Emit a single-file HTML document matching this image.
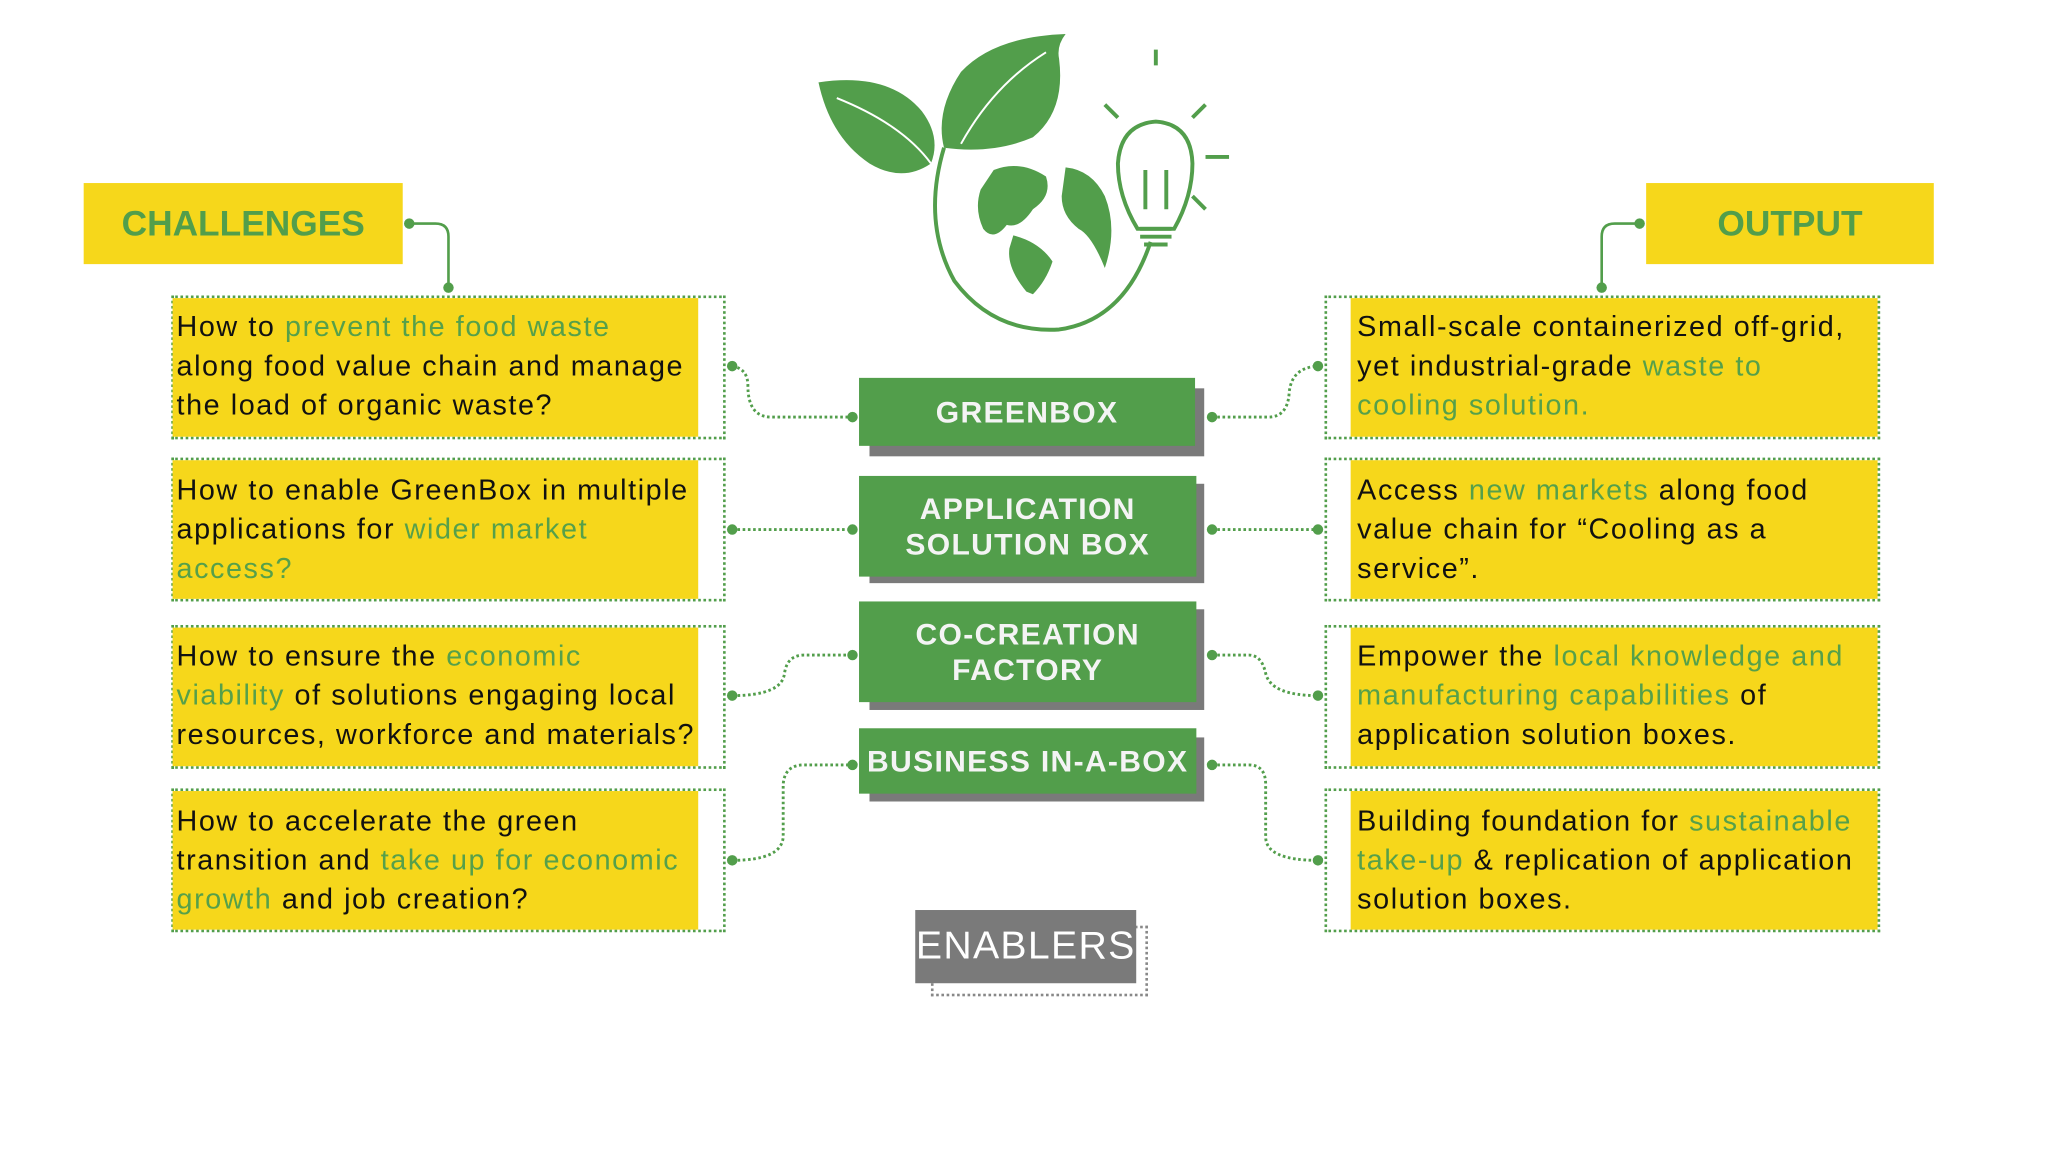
<!DOCTYPE html>
<html><head><meta charset="utf-8"><style>
html,body{margin:0;padding:0;background:#fff;width:2049px;height:1152px;overflow:hidden}
#s{position:absolute;left:0;top:0;width:1570px;height:881px;transform:scale(1.3075);transform-origin:0 0;font-family:"Liberation Sans",sans-serif}
.a{position:absolute}
.y{background:#F6D71B}
.hd{color:#529E4B;font-weight:bold;font-size:27px;display:flex;align-items:center;justify-content:center}
.dot{position:absolute;border:2px dotted #529E4B;box-sizing:border-box}
.t{position:absolute;font-size:22px;line-height:30px;color:#111;white-space:nowrap;letter-spacing:1.2px}
.g{color:#56A04A}
.c{position:absolute;background:#529E4B;color:#F4F4F4;font-weight:bold;font-size:23px;line-height:27px;text-align:center;display:flex;align-items:center;justify-content:center;letter-spacing:1px}
.sh{position:absolute;background:#7A7A7A}
</style></head><body><div id="s">
<div class="a y hd" style="left:64px;top:140px;width:244px;height:62px">CHALLENGES</div>
<div class="a y hd" style="left:1259px;top:140px;width:220px;height:62px">OUTPUT</div>

<div class="dot" style="left:131px;top:226px;width:424px;height:110px"></div>
<div class="a y" style="left:132px;top:228px;width:402px;height:106px"></div>
<div class="dot" style="left:131px;top:350px;width:424px;height:110px"></div>
<div class="a y" style="left:132px;top:352px;width:402px;height:106px"></div>
<div class="dot" style="left:131px;top:478px;width:424px;height:110px"></div>
<div class="a y" style="left:132px;top:480px;width:402px;height:106px"></div>
<div class="dot" style="left:131px;top:603px;width:424px;height:110px"></div>
<div class="a y" style="left:132px;top:605px;width:402px;height:106px"></div>
<div class="t" style="left:135px;top:235px">How to <span class="g">prevent the food waste</span><br>along food value chain and manage<br>the load of organic waste?</div>
<div class="t" style="left:135px;top:360px">How to enable GreenBox in multiple<br>applications for <span class="g">wider market</span><br><span class="g">access?</span></div>
<div class="t" style="left:135px;top:487px">How to ensure the <span class="g">economic</span><br><span class="g">viability</span> of solutions engaging local<br>resources, workforce and materials?</div>
<div class="t" style="left:135px;top:613px">How to accelerate the green<br>transition and <span class="g">take up for economic</span><br><span class="g">growth</span> and job creation?</div>

<div class="dot" style="left:1013px;top:226px;width:425px;height:110px"></div>
<div class="a y" style="left:1033px;top:228px;width:403px;height:106px"></div>
<div class="dot" style="left:1013px;top:350px;width:425px;height:110px"></div>
<div class="a y" style="left:1033px;top:352px;width:403px;height:106px"></div>
<div class="dot" style="left:1013px;top:478px;width:425px;height:110px"></div>
<div class="a y" style="left:1033px;top:480px;width:403px;height:106px"></div>
<div class="dot" style="left:1013px;top:603px;width:425px;height:110px"></div>
<div class="a y" style="left:1033px;top:605px;width:403px;height:106px"></div>
<div class="t" style="left:1038px;top:235px">Small-scale containerized off-grid,<br>yet industrial-grade <span class="g">waste to</span><br><span class="g">cooling solution.</span></div>
<div class="t" style="left:1038px;top:360px">Access <span class="g">new markets</span> along food<br>value chain for “Cooling as a<br>service”.</div>
<div class="t" style="left:1038px;top:487px">Empower the <span class="g">local knowledge and</span><br><span class="g">manufacturing capabilities</span> of<br>application solution boxes.</div>
<div class="t" style="left:1038px;top:613px">Building foundation for <span class="g">sustainable</span><br><span class="g">take-up</span> &amp; replication of application<br>solution boxes.</div>

<div class="sh" style="left:665px;top:297px;width:256px;height:52px"></div>
<div class="c" style="left:657px;top:289px;width:257px;height:52px">GREENBOX</div>
<div class="sh" style="left:665px;top:370px;width:256px;height:76px"></div>
<div class="c" style="left:657px;top:364px;width:258px;height:77px">APPLICATION<br>SOLUTION BOX</div>
<div class="sh" style="left:665px;top:466px;width:256px;height:77px"></div>
<div class="c" style="left:657px;top:460px;width:258px;height:77px">CO-CREATION<br>FACTORY</div>
<div class="sh" style="left:665px;top:564px;width:256px;height:49px"></div>
<div class="c" style="left:657px;top:557px;width:258px;height:50px">BUSINESS IN-A-BOX</div>

<div class="a" style="left:712px;top:708px;width:166px;height:54px;border:2px dotted #888;box-sizing:border-box"></div>
<div class="a" style="left:700px;top:696px;width:169px;height:56px;background:#7A7A7A;color:#fff;font-size:30px;display:flex;align-items:center;justify-content:center;letter-spacing:1px">ENABLERS</div>

<svg class="a" style="left:0;top:0" width="1570" height="881">
<g fill="none" stroke="#529E4B" stroke-width="2">
<path d="M313 171 H333 Q343 171 343 181 V220"/>
<path d="M1254 171 H1235 Q1225 171 1225 181 V220"/>
</g>
<g fill="none" stroke="#529E4B" stroke-width="2.2" stroke-dasharray="2 2">
<path d="M560 280 Q572 282 572 295 Q572 319 590 319 H652"/>
<path d="M560 405 H652"/>
<path d="M560 532 Q598 532 600 515 Q602 501 615 501 H652"/>
<path d="M560 658 Q598 658 599 640 V600 Q600 585 615 585 H652"/>
<path d="M927 319 H970 Q985 319 986 300 Q988 281 1008 280"/>
<path d="M927 405 H1008"/>
<path d="M927 501 H955 Q965 501 968 515 Q972 532 1008 532"/>
<path d="M927 585 H955 Q968 585 968 600 V640 Q968 658 1008 658"/>
</g>
<g fill="#529E4B">
<circle cx="313" cy="171" r="4"/><circle cx="343" cy="220" r="4"/>
<circle cx="1254" cy="171" r="4"/><circle cx="1225" cy="220" r="4"/>
<circle cx="560" cy="280" r="4"/><circle cx="652" cy="319" r="4"/>
<circle cx="560" cy="405" r="4"/><circle cx="652" cy="405" r="4"/>
<circle cx="560" cy="532" r="4"/><circle cx="652" cy="501" r="4"/>
<circle cx="560" cy="658" r="4"/><circle cx="652" cy="585" r="4"/>
<circle cx="927" cy="319" r="4"/><circle cx="1008" cy="280" r="4"/>
<circle cx="927" cy="405" r="4"/><circle cx="1008" cy="405" r="4"/>
<circle cx="927" cy="501" r="4"/><circle cx="1008" cy="532" r="4"/>
<circle cx="927" cy="585" r="4"/><circle cx="1008" cy="658" r="4"/>
</g>
<g fill="#529E4B">
<path d="M626 63 Q680 55 705 85 Q720 105 712 125 Q690 140 665 125 Q635 105 626 63Z"/>
<path d="M815 26 Q760 28 735 55 Q715 85 722 113 Q760 118 790 105 Q815 85 810 45 Q808 35 815 26Z"/>
<path d="M760 130 Q780 122 800 135 Q805 150 790 160 Q780 175 770 172 Q760 185 752 175 Q745 160 750 145Z"/>
<path d="M775 180 Q795 185 805 200 Q800 215 790 225 L785 223 Q770 205 772 190Z"/>
<path d="M815 128 Q835 130 845 150 Q855 175 845 205 Q835 180 825 175 Q812 165 812 150Z"/>
</g>
<g fill="none" stroke="#529E4B" stroke-width="3">
<path d="M722 113 Q705 170 730 215 Q760 255 810 252 Q860 245 880 185"/>
<path d="M884 38 V50 M845 80 L855 90 M922 80 L912 90 M922 120 H940 M912 150 L922 160"/>
<path d="M870 175 Q855 150 855 125 Q857 95 884 93 Q911 95 912 125 Q912 150 898 175Z"/>
<path d="M872 175 H896 M872 181 H896 M875 187 H893 M876 130 V160 M892 130 V160"/>
</g>
<g stroke="#fff" stroke-width="1.5" fill="none"><path d="M640 75 Q690 95 712 125"/><path d="M800 40 Q760 65 735 110"/></g>
</svg>
</div></body></html>
